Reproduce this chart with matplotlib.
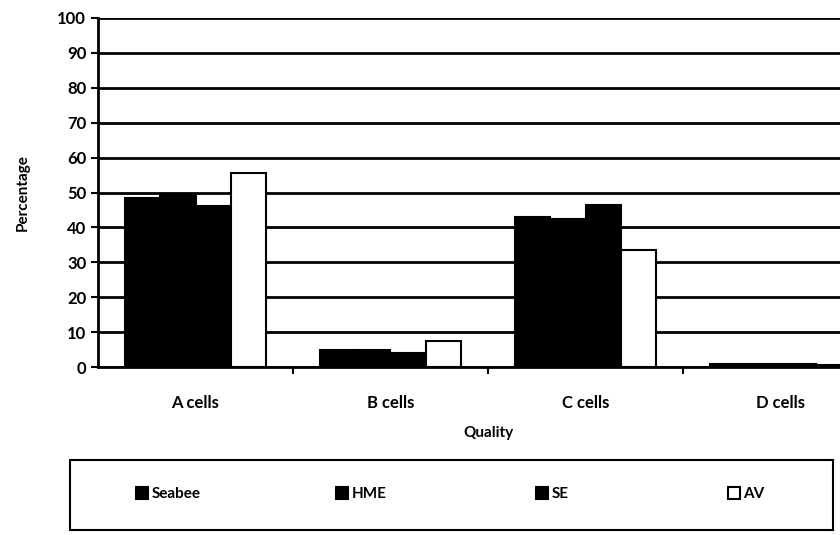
import numpy as np
import matplotlib
matplotlib.use("Agg")
import matplotlib.pyplot as plt
from matplotlib.patches import Rectangle

categories = ["A cells", "B cells", "C cells", "D cells"]
series_names = ["Seabee", "HME", "SE", "AV"]
seabee = [48.5, 5.0, 43.0, 1.0]
hme = [49.5, 5.0, 42.5, 0.8]
se = [46.0, 4.0, 46.5, 0.8]
av = [55.5, 7.5, 33.5, 0.6]

plt.rcParams['font.family'] = ['Lato', 'DejaVu Sans']
plt.rcParams['font.weight'] = 'bold'

fig = plt.figure(figsize=(8.4, 5.35), dpi=100)
ax = fig.add_axes([98 / 840, 168 / 535, 780 / 840, 349 / 535])

x = np.arange(len(categories))
w = 0.18
styles = [
    dict(facecolor='black', edgecolor='black'),
    dict(facecolor='black', edgecolor='black'),
    dict(facecolor='black', edgecolor='black'),
    dict(facecolor='white', edgecolor='black'),
]
bars = []
for i, (vals, st) in enumerate(zip([seabee, hme, se, av], styles)):
    b = ax.bar(x + (i - 1.5) * w, vals, w, linewidth=1.5, zorder=3,
               label=series_names[i], **st)
    bars.append(b)

ax.set_xlim(-0.5, 3.5)
ax.set_ylim(0, 100)
ax.set_yticks(range(0, 101, 10))
ax.yaxis.grid(True, color='black', linewidth=2)
ax.set_axisbelow(True)
ax.set_xticks([0.5, 1.5, 2.5])
ax.set_xticklabels([])
ax.set_xticks(x, minor=True)
ax.set_xticklabels(categories, minor=True, fontsize=12, fontweight='bold')
ax.tick_params(axis='x', which='minor', length=0, pad=20)
ax.tick_params(axis='x', which='major', length=5, width=1.5, direction='out')
ax.tick_params(axis='y', length=5, width=1.5, labelsize=12)
for lab in ax.get_yticklabels():
    lab.set_fontweight('bold')
for s in ['top', 'right']:
    ax.spines[s].set_visible(False)
ax.spines['left'].set_linewidth(2)
ax.spines['bottom'].set_linewidth(2)

ax.set_ylabel("Percentage", fontsize=11, fontweight='bold', labelpad=20)
fig.text(488 / 840, 1 - 433 / 535, "Quality", ha='center', va='center',
         fontsize=11, fontweight='bold')

# legend box with entries at fixed positions
fig.patches.append(Rectangle((70 / 840, 5 / 535), 763 / 840, 70 / 535,
                             transform=fig.transFigure, fill=False,
                             edgecolor='black', linewidth=1.5))
leg_x = [136, 336, 536, 728]
for b, name, lx in zip(bars, series_names, leg_x):
    fig.legend([b], [name], loc='center left',
               bbox_to_anchor=(lx / 840, 1 - 494 / 535), frameon=False,
               fontsize=11, handlelength=0.8, handleheight=0.8,
               handletextpad=0.2, borderaxespad=0, borderpad=0)

fig.savefig("out.png", dpi=100)
